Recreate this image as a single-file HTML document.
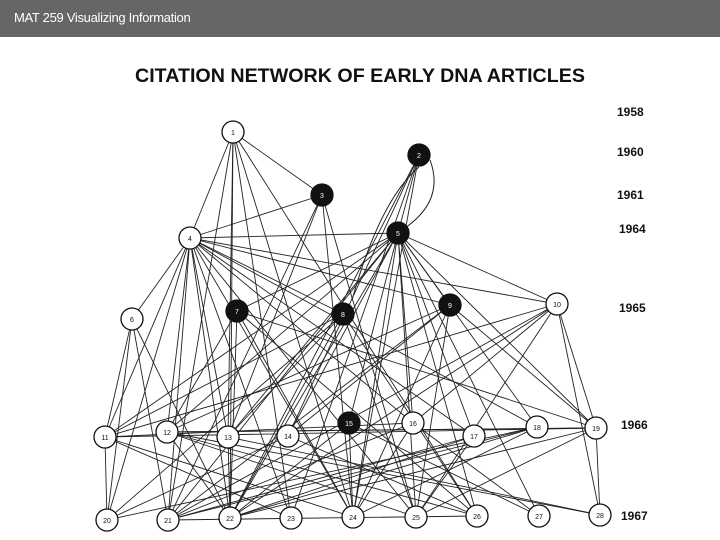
<!DOCTYPE html>
<html><head><meta charset="utf-8"><style>
body{margin:0;width:720px;height:540px;background:#fff;overflow:hidden;font-family:"Liberation Sans",sans-serif}
#hdr{position:absolute;left:0;top:0;width:720px;height:37px;background:#666}
#hdr span{position:absolute;left:14px;top:10px;color:#fff;font-size:13px;letter-spacing:-0.3px}
svg{position:absolute;left:0;top:0}
</style></head><body>
<div id="hdr"><span>MAT 259 Visualizing Information</span></div>
<svg id="s" width="720" height="540" xmlns="http://www.w3.org/2000/svg">
<text x="135" y="82" font-size="19" font-weight="bold" textLength="450" lengthAdjust="spacingAndGlyphs" fill="#111">CITATION NETWORK OF EARLY DNA ARTICLES</text>
<g font-size="12" font-weight="bold" fill="#111">
<text x="617" y="116">1958</text><text x="617" y="156">1960</text><text x="617" y="199">1961</text>
<text x="619" y="233">1964</text><text x="619" y="312">1965</text><text x="621" y="429">1966</text><text x="621" y="520">1967</text>
</g>
<g id="e" stroke="#222" stroke-width="0.9" fill="none"></g>
<path d="M419 167 Q380 200 352 300 M430 160 Q445 200 405 228" stroke="#222" fill="none"/>
<g id="n"></g>
</svg>
<script>
var N={1:[233,132,0],2:[419,155,1],3:[322,195,1],4:[190,238,0],5:[398,233,1],6:[132,319,0],7:[237,311,1],8:[343,314,1],9:[450,305,1],10:[557,304,0],
11:[105,437,0],12:[167,432,0],13:[228,437,0],14:[288,436,0],15:[349,423,1],16:[413,423,0],17:[474,436,0],18:[537,427,0],19:[596,428,0],
20:[107,520,0],21:[168,520,0],22:[230,518,0],23:[291,518,0],24:[353,517,0],25:[416,517,0],26:[477,516,0],27:[539,516,0],28:[600,515,0]};
var E="1-4 1-3 1-13 1-22 1-24 1-23 1-21 2-5 2-14 2-23 2-22 3-4 3-21 3-13 3-24 4-5 4-6 4-11 4-12 4-13 4-20 4-21 4-22 4-23 4-24 4-25 4-16 4-17 4-18 4-9 4-8 5-7 5-11 5-12 5-13 5-14 5-15 5-16 5-17 5-18 5-19 5-21 5-22 5-24 5-25 5-26 5-27 5-10 5-9 6-11 6-20 6-21 7-12 7-22 7-24 7-19 8-11 8-13 8-22 8-25 8-26 9-12 9-14 9-24 9-25 9-19 10-19 10-11 10-28 10-22 10-25 10-16 10-4 11-20 11-19 11-16 11-23 12-19 12-25 12-22 12-26 13-22 13-28 15-24 15-22 15-27 16-24 16-21 17-25 17-22 18-21 18-24 19-28 19-22 19-25 19-12 3-25 1-26 2-24 6-22 14-26 21-26 20-18 16-27 11-24 12-28 7-26 9-21 8-20 10-21 14-20 17-21 18-22";
var ns="http://www.w3.org/2000/svg",ge=document.getElementById('e'),gn=document.getElementById('n');
E.split(' ').forEach(function(p){var a=N[p.split('-')[0]],b=N[p.split('-')[1]];var l=document.createElementNS(ns,'line');
l.setAttribute('x1',a[0]);l.setAttribute('y1',a[1]);l.setAttribute('x2',b[0]);l.setAttribute('y2',b[1]);ge.appendChild(l);});
for(var k in N){var v=N[k];var c=document.createElementNS(ns,'circle');c.setAttribute('cx',v[0]);c.setAttribute('cy',v[1]);c.setAttribute('r',v[2]?11:11);
c.setAttribute('fill',v[2]?'#111':'#fff');c.setAttribute('stroke','#111');c.setAttribute('stroke-width','1.3');gn.appendChild(c);
var t=document.createElementNS(ns,'text');t.setAttribute('x',v[0]);t.setAttribute('y',v[1]+3);t.setAttribute('font-size','7');t.setAttribute('text-anchor','middle');
t.setAttribute('fill',v[2]?'#fff':'#111');t.setAttribute('font-family','Liberation Sans, sans-serif');t.textContent=k;gn.appendChild(t);}
</script>
</body></html>
